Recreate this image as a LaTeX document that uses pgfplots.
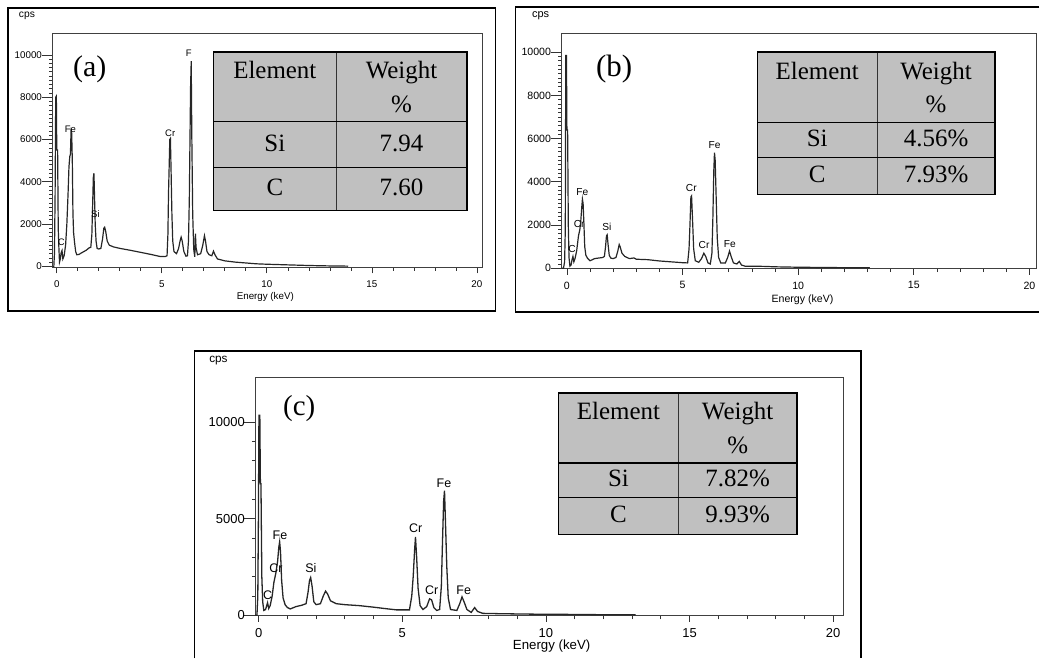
\documentclass[border=0pt]{standalone}
\usepackage{fontspec}
\setmainfont{Liberation Serif}
\newfontfamily\sansf{Liberation Sans}
\usepackage{pgfplots}
\usepackage{pgfplotstable}
\pgfplotsset{compat=1.18}
\definecolor{tgray}{RGB}{192,192,192}

\pgfplotstableread{
E cps
-0.2 0
-0.14 0
-0.11 600
-0.08 3300
-0.05 8000
-0.02 8050
0.0 5500
0.04 5500
0.07 1800
0.10 900
0.13 200
0.17 350
0.21 650
0.25 750
0.29 350
0.35 500
0.42 1000
0.48 2000
0.54 3500
0.58 4700
0.62 5200
0.65 5300
0.68 6400
0.71 6300
0.74 5000
0.77 2500
0.80 1600
0.85 1100
0.90 700
0.95 550
1.05 560
1.2 650
1.4 760
1.55 880
1.62 900
1.67 1500
1.71 3000
1.74 4200
1.77 4400
1.80 3200
1.83 2000
1.87 1200
1.92 850
2.0 820
2.1 850
2.18 1300
2.24 1800
2.28 1850
2.33 1650
2.4 1200
2.5 1000
2.7 920
3.0 850
3.5 760
4.0 660
4.5 560
4.9 470
5.15 460
5.25 500
5.29 1500
5.32 3500
5.35 4700
5.38 6000
5.41 6050
5.44 4600
5.48 2500
5.52 1200
5.58 700
5.7 600
5.8 850
5.87 1200
5.92 1380
5.97 1200
6.05 700
6.15 480
6.22 500
6.27 1200
6.31 3200
6.34 5900
6.37 8500
6.40 9700
6.43 6000
6.47 2500
6.52 800
6.57 450
6.6 1550
6.63 900
6.7 550
6.85 600
6.95 1000
7.03 1450
7.08 1200
7.15 700
7.25 550
7.38 500
7.46 720
7.53 550
7.65 350
8.0 260
8.5 200
9.0 160
9.5 120
10.0 100
10.5 85
11.0 70
11.5 55
12.0 40
12.5 30
13.0 20
13.5 15
13.85 10
13.86 0
}\dataA

\pgfplotstableread{
E cps
-0.23 0
-0.15 0
-0.1 300
-0.07 1800
-0.05 9850
-0.02 9850
0.0 6400
0.03 6400
0.06 2000
0.09 500
0.13 100
0.18 150
0.22 400
0.26 550
0.3 300
0.35 450
0.42 800
0.5 1500
0.56 1800
0.6 2200
0.64 2800
0.67 3200
0.7 3000
0.73 2200
0.77 1000
0.82 600
0.9 450
1.0 350
1.2 450
1.4 480
1.55 500
1.62 550
1.67 1000
1.71 1500
1.74 1550
1.78 1100
1.83 600
1.9 470
2.0 450
2.12 500
2.2 800
2.26 1100
2.3 1000
2.38 700
2.5 550
2.7 450
2.9 480
3.0 420
3.5 400
4.0 340
4.5 300
5.0 260
5.22 250
5.28 900
5.32 2000
5.36 3300
5.39 3350
5.43 2300
5.48 900
5.55 350
5.7 280
5.82 450
5.92 700
6.0 550
6.1 250
6.2 200
6.27 700
6.31 2300
6.35 4500
6.38 5350
6.41 5000
6.45 3400
6.5 1400
6.56 500
6.65 250
6.85 250
6.95 500
7.03 800
7.1 550
7.2 250
7.35 200
7.45 320
7.55 150
7.7 100
8.5 90
9.0 70
10 50
11 40
12 30
13.07 30
13.08 0
}\dataB

\pgfplotstableread{
E cps
-0.12 0
-0.06 0
-0.03 1000
-0.01 4700
0.01 10350
0.04 10350
0.06 6800
0.08 6800
0.11 2000
0.14 700
0.18 250
0.24 300
0.28 500
0.31 650
0.35 350
0.4 500
0.47 1000
0.53 1700
0.6 2200
0.66 2800
0.7 3500
0.73 3800
0.76 3300
0.8 1800
0.85 900
0.92 550
1.0 400
1.1 330
1.3 450
1.5 520
1.65 600
1.72 1200
1.77 1800
1.81 1950
1.86 1500
1.92 700
2.0 550
2.15 600
2.25 1000
2.33 1250
2.4 1100
2.5 750
2.7 600
3.0 550
3.5 500
4.0 420
4.5 330
4.8 280
5.25 280
5.33 1000
5.38 2000
5.43 3400
5.46 4050
5.5 3000
5.55 1400
5.62 500
5.72 300
5.85 450
5.95 850
6.02 800
6.1 400
6.2 250
6.3 300
6.36 1500
6.4 3800
6.44 5900
6.47 6450
6.5 5000
6.55 2500
6.6 900
6.68 300
6.9 250
7.0 600
7.08 950
7.15 700
7.25 300
7.4 150
7.52 400
7.62 200
7.8 100
8.5 80
9.5 60
10.5 50
12 30
13.1 30
13.11 0
}\dataC

\pgfplotsset{
  eds/.style={
    scale only axis, anchor=north west,
    axis line style={black!75, line width=0.4pt},
    tick style={black!80, line width=0.35pt},
    tick align=outside, tick pos=left,
    xtick={0,5,10,15,20}, minor x tick num=4,
    major tick length=3pt, minor tick length=1.8pt,
    ytick style={/pgfplots/major tick length=5.5pt},
    yticklabel style={xshift=1.2pt},
    /pgf/number format/assume math mode=true,
    /pgf/number format/1000 sep={},
    scaled y ticks=false, clip=false,
  }
}

% table: left, divider, right, top, row1, row2, bottom, Si value, C value (pixel units)
\newcommand{\etable}[9]{%
  \begin{scope}[x=0.5pt,y=-0.5pt]
    \fill[tgray] (#1,#4) rectangle (#3,#7);
    \draw[line width=0.4pt, black!80] (#2,#4) -- (#2,#7);
    \draw[line width=0.7pt] (#1,#5) -- (#3,#5);
    \draw[line width=0.7pt] (#1,#6) -- (#3,#6);
    \draw[line width=0.7pt] (#1,#4) rectangle (#3,#7);
    \begin{scope}[every node/.style={font=\fontsize{12.5}{15}\selectfont, anchor=base, inner sep=0pt}]
      \node at ({(#1+#2)/2},{#4+27}) {Element};
      \node at ({(#2+#3)/2},{#4+27}) {Weight};
      \node at ({(#2+#3)/2},{#4+60.5}) {\%};
      \node at ({(#1+#2)/2},{(#5+#6)/2+6.5}) {Si};
      \node at ({(#2+#3)/2},{(#5+#6)/2+6.5}) {#8};
      \node at ({(#1+#2)/2},{(#6+#7)/2+6.5}) {C};
      \node at ({(#2+#3)/2},{(#6+#7)/2+6.5}) {#9};
    \end{scope}
  \end{scope}}

\begin{document}
\begin{tikzpicture}
\path (0pt,0pt) rectangle (521pt,-330pt);

% ---------------- (a)
\begin{axis}[eds,
  at={(26.35pt,-16.5pt)}, width=215.65pt, height=117.5pt,
  xmin=-0.2, xmax=20.28, ymin=-47, ymax=11038,
  ytick={0,2000,4000,6000,8000,10000}, minor y tick num=9,
  ticklabel style={font=\sansf\fontsize{4.9}{5}\selectfont},
]
\addplot[black!85, line width=0.6pt] table[x=E,y=cps] {\dataA};
\begin{scope}[every node/.style={font=\sansf\fontsize{4.75}{5}\selectfont, inner sep=0pt}]
\node at (axis cs:0.65,6495) {Fe};
\node at (axis cs:1.84,2453) {Si};
\node at (axis cs:5.40,6307) {Cr};
\node at (axis cs:6.28,10080) {F};
\node at (axis cs:0.22,1118) {C};
\end{scope}
\end{axis}

% ---------------- (b)
\begin{axis}[eds,
  at={(281.5pt,-16.65pt)}, width=238pt, height=118pt,
  xmin=-0.23, xmax=20.3, ymin=-15, ymax=10875,
  ytick={0,2000,4000,6000,8000,10000}, minor y tick num=9,
  ticklabel style={font=\sansf\fontsize{5.3}{6}\selectfont},
]
\addplot[black!85, line width=0.6pt] table[x=E,y=cps] {\dataB};
\begin{scope}[every node/.style={font=\sansf\fontsize{5.1}{6}\selectfont, inner sep=0pt}]
\node at (axis cs:0.67,3516) {Fe};
\node at (axis cs:0.53,2028) {Cr};
\node at (axis cs:0.22,876) {C};
\node at (axis cs:1.73,1922) {Si};
\node at (axis cs:5.38,3719) {Cr};
\node at (axis cs:5.93,1060) {Cr};
\node at (axis cs:6.38,5714) {Fe};
\node at (axis cs:7.04,1106) {Fe};
\end{scope}
\end{axis}

% ---------------- (c)
\begin{axis}[eds,
  at={(128pt,-189.15pt)}, width=294.5pt, height=119.5pt,
  xmin=-0.115, xmax=20.34, ymin=-25, ymax=12304,
  ytick={0,5000,10000}, minor y tick num=4,
  ticklabel style={font=\sansf\fontsize{6.5}{7}\selectfont},
]
\addplot[black!85, line width=0.65pt] table[x=E,y=cps] {\dataC};
\begin{scope}[every node/.style={font=\sansf\fontsize{6.25}{7}\selectfont, inner sep=0pt}]
\node at (axis cs:0.74,4139) {Fe};
\node at (axis cs:0.60,2423) {Cr};
\node at (axis cs:0.31,1046) {C};
\node at (axis cs:1.82,2423) {Si};
\node at (axis cs:5.47,4485) {Cr};
\node at (axis cs:6.02,1304) {Cr};
\node at (axis cs:6.45,6804) {Fe};
\node at (axis cs:7.14,1304) {Fe};
\end{scope}
\end{axis}

% frames, labels (pixel units)
\begin{scope}[x=0.5pt,y=-0.5pt]
  \draw[line width=0.9pt] (8,8) rectangle (496.7,311.7);
  \draw[line width=0.9pt] (1042,7) -- (516.8,7) -- (516.8,313) -- (1042,313);
  \draw[line width=0.9pt] (195,660) -- (195,352) -- (863.3,352) -- (863.3,660);

  \node[font=\sansf\fontsize{5.15}{6}\selectfont] at (27,16) {cps};
  \node[font=\sansf\fontsize{5.5}{6}\selectfont] at (542,16) {cps};
  \node[font=\sansf\fontsize{5.9}{6}\selectfont] at (219,361) {cps};

  \node[font=\sansf\fontsize{4.9}{5}\selectfont] at (266,298) {Energy (keV)};
  \node[font=\sansf\fontsize{5.3}{6}\selectfont] at (804.5,301) {Energy (keV)};
  \node[font=\sansf\fontsize{6.65}{7}\selectfont] at (553,648) {Energy (keV)};

  \node[font=\fontsize{15}{17}\selectfont] at (90,69) {(a)};
  \node[font=\fontsize{15.5}{17}\selectfont] at (615.7,69) {(b)};
  \node[font=\fontsize{14.5}{16}\selectfont] at (300,410) {(c)};
\end{scope}

\etable{214}{337}{468}{52}{122}{168}{211}{7.94}{7.60}
\etable{759.4}{879.2}{997.6}{52.3}{122.7}{157.7}{195}{4.56\%}{7.93\%}
\etable{560}{680}{799}{394}{464}{499}{536}{7.82\%}{9.93\%}
\end{tikzpicture}
\end{document}
